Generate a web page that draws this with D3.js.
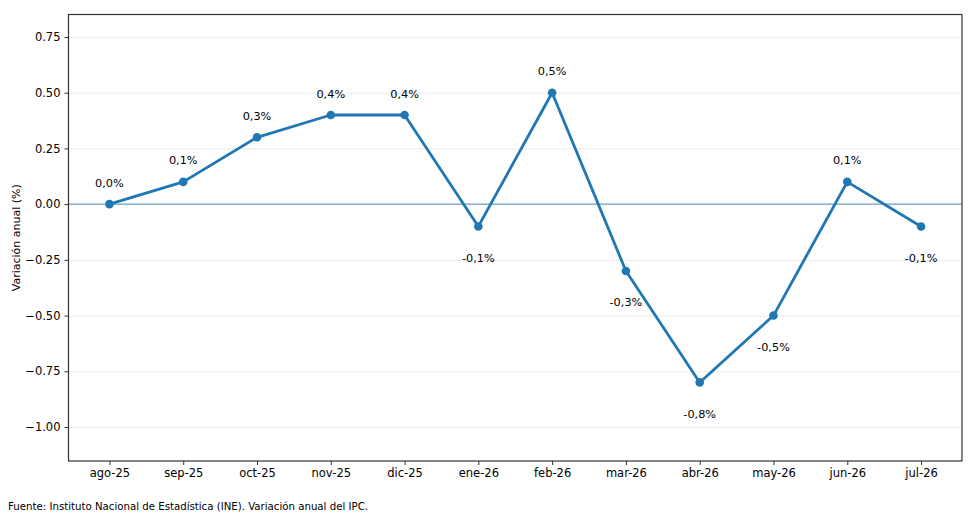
<!DOCTYPE html>
<html>
<head>
  <meta charset="utf-8">
  <script src="https://d3js.org/d3.v7.min.js"></script>
  <style>
    body { margin: 0; background: #fff; }
    text { font-family: "DejaVu Sans", sans-serif; fill: #000; }
    .axis text { font-size: 11.5px; }
    .axis .domain { display: none; }
    .axis line { stroke: #333; stroke-width: 1; }
    .grid line { stroke: #e6e6e6; stroke-width: 0.8; }
    .grid .domain { stroke: none; }
    .vlabel { font-size: 11.3px; }
  </style>
</head>
<body>
<svg id="chart" width="970" height="519"></svg>
<script>
  // datos
  const months = ["ago-25", "sep-25", "oct-25", "nov-25", "dic-25", "ene-26",
                  "feb-26", "mar-26", "abr-26", "may-26", "jun-26", "jul-26"];
  const values = [0.0, 0.1, 0.3, 0.4, 0.4, -0.1, 0.5, -0.3, -0.8, -0.5, 0.1, -0.1];
  const yTicks = [-1.00, -0.75, -0.50, -0.25, 0.00, 0.25, 0.50, 0.75];

  const svg = d3.select("svg#chart");
  const margin = {top: 14.5, right: 8, bottom: 58, left: 68.5};
  const width = +svg.attr("width");
  const height = +svg.attr("height");
  const chartWidth = width - margin.left - margin.right;
  const chartHeight = height - margin.top - margin.bottom;

  const xScale = d3.scaleLinear().domain([-0.555, months.length - 1 + 0.555]).range([0, chartWidth]);
  const yScale = d3.scaleLinear().domain([-1.1526, 0.851]).range([chartHeight, 0]);

  const g = svg.append("g").attr("transform", "translate(" + margin.left + "," + margin.top + ")");

  // gridlines horizontales
  g.append("g").attr("class", "grid")
    .call(d3.axisLeft(yScale).tickValues(yTicks).tickFormat("").tickSize(-chartWidth));

  // linea del cero
  g.append("line")
    .attr("x1", 0).attr("x2", chartWidth)
    .attr("y1", yScale(0)).attr("y2", yScale(0))
    .attr("stroke", "#6f9fc4").attr("stroke-width", 1.1);

  const leftAxis = d3.axisLeft(yScale).tickValues(yTicks)
    .tickFormat(d => d3.format(".2f")(d).replace("-", "\u2212"))
    .tickSize(4).tickPadding(4);
  g.append("g").attr("class", "axis").call(leftAxis);

  const bottomAxis = d3.axisBottom(xScale).tickValues(d3.range(months.length))
    .tickFormat(i => months[i]).tickSize(4).tickPadding(4);
  g.append("g").attr("class", "axis")
    .attr("transform", "translate(0," + chartHeight + ")")
    .call(bottomAxis);

  // serie
  const line = d3.line().x((d, i) => xScale(i)).y(d => yScale(d));
  g.append("path").datum(values)
    .attr("fill", "none")
    .attr("stroke", "#1f77b4")
    .attr("stroke-width", 2.8)
    .attr("stroke-linejoin", "round")
    .attr("d", line);

  g.selectAll("circle.pt").data(values).enter().append("circle")
    .attr("class", "pt")
    .attr("cx", (d, i) => xScale(i))
    .attr("cy", d => yScale(d))
    .attr("r", 4.3)
    .attr("fill", "#1f77b4");

  g.selectAll("text.vlabel").data(values).enter().append("text")
    .attr("class", "vlabel")
    .attr("text-anchor", "middle")
    .attr("dominant-baseline", "central")
    .attr("x", (d, i) => xScale(i))
    .attr("y", d => yScale(d) + (d >= 0 ? -21 : 32))
    .text(d => d.toFixed(1).replace(".", ",") + "%");

  // marco
  g.append("rect")
    .attr("x", 0).attr("y", 0)
    .attr("width", chartWidth).attr("height", chartHeight)
    .attr("fill", "none").attr("stroke", "#333").attr("stroke-width", 1.2);

  svg.append("text")
    .attr("transform", "translate(16," + (margin.top + chartHeight / 2) + ") rotate(-90)")
    .attr("text-anchor", "middle")
    .attr("dominant-baseline", "central")
    .style("font-size", "11px")
    .text("Variación anual (%)");

  svg.append("text")
    .attr("x", 8).attr("y", 506)
    .attr("dominant-baseline", "central")
    .style("font-size", "10.2px")
    .text("Fuente: Instituto Nacional de Estadística (INE). Variación anual del IPC.");
</script>
</body>
</html>
